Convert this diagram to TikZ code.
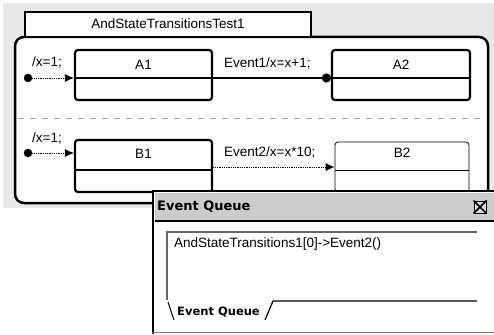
\documentclass[tikz,border=0pt]{standalone}
\usepackage{fontspec}
\setmainfont{Liberation Sans}
\newfontfamily\winfont{DejaVu Sans}
\usetikzlibrary{arrows.meta}

\begin{document}
\begin{tikzpicture}[x=1pt,y=-1pt]
			\tikzstyle{every node}+=[inner sep=0pt,font=\fontsize{13.5}{15}\selectfont]
			\tikzstyle{state}=[draw,line width=2.2pt,rounded corners=3pt]
			\tikzstyle{idle}=[draw,line width=0.8pt,rounded corners=3pt]
			\tikzstyle{init}=[densely dotted,line width=0.8pt,-{Latex[length=9pt,width=8pt]}]
			\tikzstyle{fired}=[line width=2.2pt,-{Circle[length=9pt]}]
			\tikzstyle{trans}=[densely dotted,line width=0.8pt,-{Latex[length=9pt,width=8pt]}]
			\tikzstyle{pin}=[circle,fill,minimum size=8.5pt]
			\tikzstyle{wintext}=[anchor=west,font=\winfont\bfseries\fontsize{13}{15}\selectfont]
			\useasboundingbox (0,0) rectangle (494,334);
			\fill [gray!18] (3,3) rectangle (494,208);
			\draw [line width=2.5pt,fill=white,rounded corners=9pt] (15,37) rectangle (488,203);
			\draw [line width=2pt,fill=white] (25,12) rectangle (311,37);
			\node (title) at (168,24) {AndStateTransitionsTest1};
			\coordinate (ya) at (0,78);
			\coordinate (yb) at (0,170);
			\coordinate (yt) at (0,167);
			\node [state,minimum width=137pt,minimum height=50pt] (A1) at (143.5,75) {};
			\node (A1n) at (143.5,65) {A1};
			\node [state,minimum width=138pt,minimum height=50pt] (A2) at (401,75) {};
			\node (A2n) at (401,65) {A2};
			\draw [line width=2.2pt] (A1.west |- ya) -- (A1.east |- ya);
			\draw [line width=2.2pt] (A2.west |- ya) -- (A2.east |- ya);
			\node [pin] (iA) at (28,78) {};
			\draw [init] (iA) -- (A1.west |- iA);
			\node [anchor=west] (iAl) at (32,62) {/x=1;};
			\draw [fired] (A1.east |- ya) -- (A2.west |- ya);
			\node [anchor=west] (e1) at (224,63) {Event1/x=x+1;};
			\draw [gray!70,line width=0.8pt,dash pattern=on 6pt off 6pt] (18,118) -- (486,118);
			\node [state,minimum width=137pt,minimum height=52pt] (B1) at (143.5,166) {};
			\node (B1n) at (143.5,154) {B1};
			\node [idle,minimum width=134pt,minimum height=50pt] (B2) at (402,167) {};
			\node (B2n) at (402,153) {B2};
			\draw [line width=2.2pt] (B1.west |- yb) -- (B1.east |- yb);
			\draw [line width=0.8pt] (B2.west |- yb) -- (B2.east |- yb);
			\node [pin] (iB) at (28,153) {};
			\draw [init] (iB) -- (B1.west |- iB);
			\node [anchor=west] (iBl) at (32,138) {/x=1;};
			\draw [trans] (B1.east |- yt) -- (B2.west |- yt);
			\node [anchor=west] (e2) at (224,152) {Event2/x=x*10;};
			\fill [white] (152,190) rectangle (494,334);
			\fill [gray!40] (155,193) rectangle (494,220);
			\draw [line width=2.5pt] (153,334) -- (153,191) -- (494,191);
			\draw [line width=1.5pt] (155,221) -- (494,221);
			\node [wintext] (wt) at (157,207) {Event Queue};
			\node [draw,fill=gray!30,line width=1pt,minimum size=12pt] (cls) at (480,207) {};
			\draw [line width=1.5pt] (cls.north west) -- (cls.south east) (cls.north east) -- (cls.south west);
			\draw [line width=2pt,gray!80!black] (167,300) -- (167,232) -- (477,232);
			\node [anchor=west] (ev) at (174,244) {AndStateTransitions1[0]->Event2()};
			\draw [line width=1pt] (168,302) -- (174,320);
			\node [wintext,font=\winfont\bfseries\fontsize{11.5}{13}\selectfont] (tab) at (177,312) {Event Queue};
			\draw [line width=1.2pt] (265,320) -- (273,301) -- (477,301);
			\draw [gray,line width=0.8pt] (152,332) -- (494,332);
		\end{tikzpicture}
\end{document}
